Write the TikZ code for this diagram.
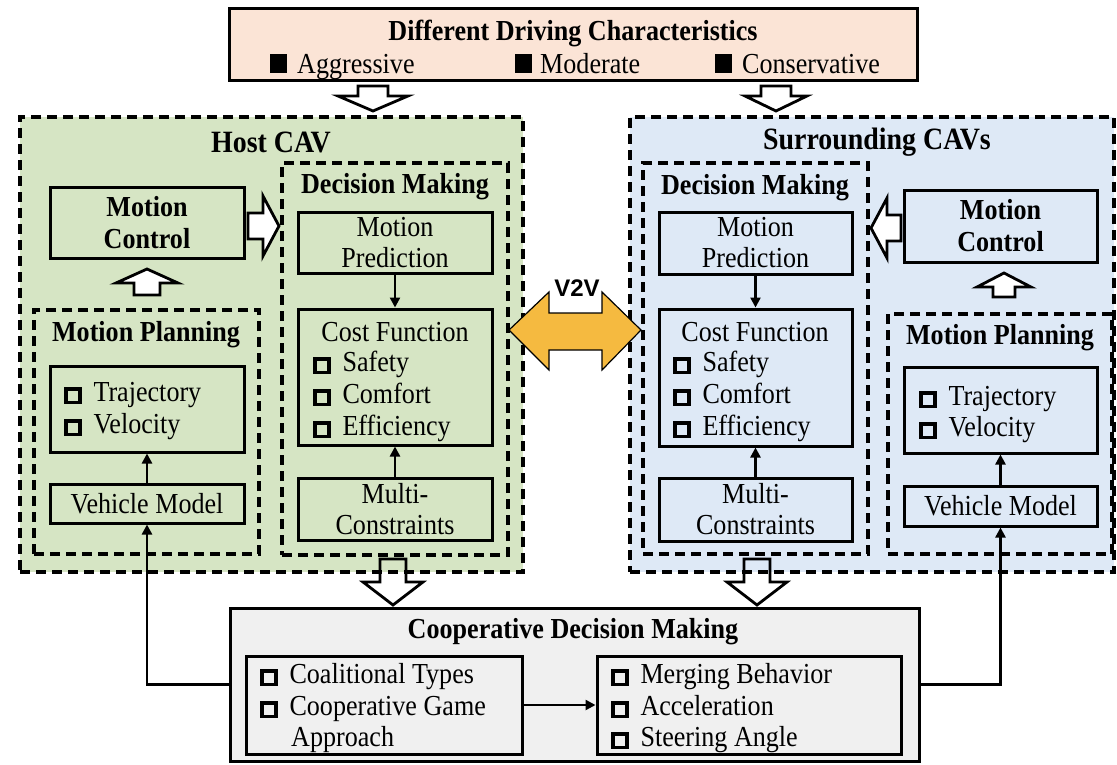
\documentclass[tikz,border=0pt]{standalone}
\usepackage{fontspec}
\setmainfont{Liberation Serif}[FakeStretch=0.9]
\newfontfamily\vfont{Liberation Sans}
\usetikzlibrary{arrows.meta}

\definecolor{peach}{RGB}{251,228,214}
\definecolor{hostgreen}{RGB}{214,229,196}
\definecolor{surrblue}{RGB}{222,233,246}
\definecolor{coopgray}{RGB}{240,240,240}
\definecolor{linkorange}{RGB}{245,186,64}

% hollow check box and filled square used in the item lists
\newcommand\chk{{\setlength\fboxrule{3.4pt}\setlength\fboxsep{0pt}\raisebox{0pt}{\fbox{\rule{0pt}{10.5pt}\rule{10.5pt}{0pt}}}}}
\newcommand\blk{\rule{17pt}{19pt}}

% block arrows: vertical (centre x, tail y, head-base y, tip y, half shaft, half head)
\newcommand\vblock[7][hollow]{\draw[#1] ({#2-#6},#3) -- ({#2+#6},#3) -- ({#2+#6},#4) -- ({#2+#7},#4) -- (#2,#5) -- ({#2-#7},#4) -- ({#2-#6},#4) -- cycle;}
% horizontal (centre y, tail x, head-base x, tip x, half shaft, half head)
\newcommand\hblock[7][hollow]{\draw[#1] (#3,{#2-#6}) -- (#3,{#2+#6}) -- (#4,{#2+#6}) -- (#4,{#2+#7}) -- (#5,#2) -- (#4,{#2-#7}) -- (#4,{#2-#6}) -- cycle;}

\tikzset{
  txt/.style={inner sep=0pt, align=center, font=\fontsize{29}{31}\selectfont},
  btxt/.style={inner sep=0pt, align=center, font=\fontsize{29}{31}\selectfont\bfseries},
  ttl/.style={inner sep=0pt, align=center, font=\fontsize{31}{33}\selectfont\bfseries},
  box/.style={draw, line width=3pt, inner sep=0pt, align=center, font=\fontsize{29}{31}\selectfont},
  group/.style={draw, line width=3.2pt, dash pattern=on 10pt off 6pt, inner sep=0pt},
  conn/.style={line width=2.4pt, -{Triangle[length=10pt,width=10pt]}},
  hollow/.style={draw, fill=white, line width=2.8pt, line join=miter},
  hollowopen/.style={draw, line width=2.8pt, line join=miter},
  v2v/.style={draw, fill=linkorange, line width=1.2pt, line join=miter},
}

\begin{document}
\begin{tikzpicture}[x=1pt,y=-1pt]
\useasboundingbox[fill=white] (0,0) rectangle (1117,764);

% driving characteristics
\node[box, fill=peach, minimum width=688pt, minimum height=72pt] (dchar) at (573,44) {};
\node[btxt] (dcharT) at (573,33) {Different Driving Characteristics};
\node[txt, anchor=base west] (agg) at (270,73) {\blk\hskip10pt Aggressive};
\node[txt, anchor=base west] (mod) at (515,73) {\blk\hskip8pt Moderate};
\node[txt, anchor=base west] (con) at (715,73) {\blk\hskip10pt Conservative};

\vblock{373}{86}{96}{111}{15}{35}
\vblock{776}{86}{96}{111}{15}{31}

% host vehicle
\node[group, fill=hostgreen, minimum width=503pt, minimum height=455pt] (host) at (271.5,344.5) {};
\node[ttl] (hostT) at (271,142) {Host CAV};

\node[group, minimum width=226pt, minimum height=392pt] (dmL) at (395,359) {};
\node[btxt] (dmLT) at (395,187) {Decision Making};
\node[box, minimum width=194pt, minimum height=61pt] (mpL) at (395,242.5) {Motion\\Prediction};
\node[box, minimum width=194pt, minimum height=136pt] (cfL) at (395,377) {};
\node[txt] (cfLT) at (395,332) {Cost Function};
\node[txt, anchor=base west] (cfL1) at (313,371) {\chk\hskip12pt Safety};
\node[txt, anchor=base west] (cfL2) at (313,403) {\chk\hskip12pt Comfort};
\node[txt, anchor=base west] (cfL3) at (313,435) {\chk\hskip12pt Efficiency};
\node[box, minimum width=194pt, minimum height=62pt] (mcL) at (395,509) {Multi-\\Constraints};
\draw[conn] (mpL) -- (cfL);
\draw[conn] (mcL) -- (cfL);

\node[box, minimum width=194pt, minimum height=71pt, font=\fontsize{29}{32}\selectfont\bfseries] (ctlL) at (147,222.5) {Motion\\Control};
\hblock{226}{248}{263}{279}{13}{30}
\vblock{147}{295}{283}{269}{13}{31}

\node[group, minimum width=225pt, minimum height=244pt] (mplL) at (146.5,432) {};
\node[btxt] (mplLT) at (146,335) {Motion Planning};
\node[box, minimum width=194pt, minimum height=86pt] (trL) at (147,409) {};
\node[txt, anchor=base west] (trL1) at (64,401) {\chk\hskip12pt Trajectory};
\node[txt, anchor=base west] (trL2) at (64,433) {\chk\hskip12pt Velocity};
\node[box, minimum width=194pt, minimum height=39pt] (vmL) at (147,503.5) {Vehicle Model};
\draw[conn] (vmL) -- (trL);

% surrounding vehicles
\node[group, fill=surrblue, minimum width=484pt, minimum height=455pt] (surr) at (872,344.5) {};
\node[ttl] (surrT) at (877,142) {Surrounding CAVs};

\node[group, minimum width=225pt, minimum height=391pt] (dmR) at (755.5,358.5) {};
\node[btxt] (dmRT) at (755,188) {Decision Making};
\node[box, minimum width=193pt, minimum height=62pt] (mpR) at (755.5,243) {Motion\\Prediction};
\node[box, minimum width=193pt, minimum height=137pt] (cfR) at (755.5,377.5) {};
\node[txt] (cfRT) at (755,332) {Cost Function};
\node[txt, anchor=base west] (cfR1) at (673,371) {\chk\hskip12pt Safety};
\node[txt, anchor=base west] (cfR2) at (673,403) {\chk\hskip12pt Comfort};
\node[txt, anchor=base west] (cfR3) at (673,435) {\chk\hskip12pt Efficiency};
\node[box, minimum width=193pt, minimum height=63pt] (mcR) at (755.5,509.5) {Multi-\\Constraints};
\draw[conn] (mpR) -- (cfR);
\draw[conn] (mcR) -- (cfR);

\node[box, minimum width=193pt, minimum height=72pt, font=\fontsize{29}{32}\selectfont\bfseries] (ctlR) at (1000.5,226) {Motion\\Control};
\hblock{228}{901}{887}{871}{13}{30}
\vblock{1004}{297}{287}{273}{11}{27}

\node[group, minimum width=224pt, minimum height=240pt] (mplR) at (1000,434) {};
\node[btxt] (mplRT) at (1000,338) {Motion Planning};
\node[box, minimum width=193pt, minimum height=86pt] (trR) at (1000.5,410) {};
\node[txt, anchor=base west] (trR1) at (919,405) {\chk\hskip12pt Trajectory};
\node[txt, anchor=base west] (trR2) at (919,436) {\chk\hskip12pt Velocity};
\node[box, minimum width=193pt, minimum height=40pt] (vmR) at (1000.5,506) {Vehicle Model};
\draw[conn] (vmR) -- (trR);

% vehicle-to-vehicle link
\draw[v2v] (509,330) -- (549,292) -- (549,313) -- (602,313) -- (602,292) -- (641,330)
  -- (602,370) -- (602,350) -- (549,350) -- (549,370) -- cycle;
\node[inner sep=0pt, font=\vfont\fontsize{24}{28}\selectfont\bfseries] (v2vT) at (577,288) {V2V};

% outputs into the cooperative layer
\vblock[hollowopen]{393}{559}{582}{605}{13}{30}
\vblock[hollowopen]{757}{559}{582}{605}{13}{30}

% cooperative decision making
\node[box, fill=coopgray, minimum width=689pt, minimum height=153pt] (coop) at (574.5,684.5) {};
\node[btxt] (coopT) at (573,632) {Cooperative Decision Making};
\node[box, minimum width=276pt, minimum height=98pt] (cl) at (384,705) {};
\node[txt, anchor=base west] (cl1) at (260,683) {\chk\hskip12pt Coalitional Types};
\node[txt, anchor=base west] (cl2) at (260,715) {\chk\hskip12pt Cooperative Game};
\node[txt, anchor=base west] (cl3) at (291,746) {Approach};
\node[box, minimum width=304pt, minimum height=98pt] (cr) at (749,705) {};
\node[txt, anchor=base west] (cr1) at (611,683) {\chk\hskip12pt Merging Behavior};
\node[txt, anchor=base west] (cr2) at (611,715) {\chk\hskip12pt Acceleration};
\node[txt, anchor=base west] (cr3) at (611,746) {\chk\hskip12pt Steering Angle};
\draw[conn] (cl) -- (cr);

% feedback to the vehicle models
\draw[conn] (coop.west) -| (vmL);
\draw[conn] (coop.east) -| (vmR);
\end{tikzpicture}
\end{document}
